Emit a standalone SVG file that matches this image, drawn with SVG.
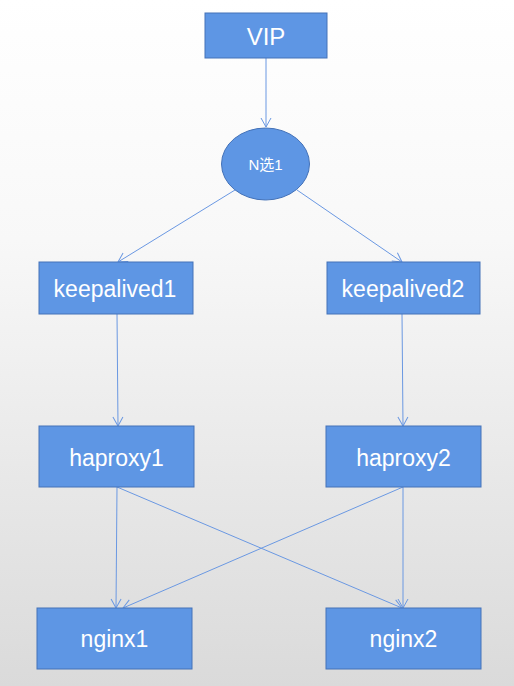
<svg xmlns="http://www.w3.org/2000/svg" width="514" height="686" viewBox="0 0 514 686">
<defs>
<linearGradient id="bg" x1="0" y1="0" x2="0" y2="1">
<stop offset="0" stop-color="#ffffff"/>
<stop offset="0.35" stop-color="#f8f8f8"/>
<stop offset="1" stop-color="#dadada"/>
</linearGradient>
<marker id="arr" markerWidth="12" markerHeight="12" refX="10" refY="6" orient="auto" markerUnits="userSpaceOnUse">
<path d="M1,1 L10,6 L1,11" fill="none" stroke="#6a98e2" stroke-width="1"/>
</marker>
<style>
.box{fill:#5e96e4;stroke:#4472b8;stroke-width:1}
.t{fill:#ffffff;font-family:"Liberation Sans",Arial,sans-serif;font-size:23px;text-anchor:middle;dominant-baseline:central}
.c{stroke:#6a98e2;stroke-width:1;fill:none;marker-end:url(#arr)}
</style>
</defs>
<rect width="514" height="686" fill="url(#bg)"/>
<g id="connectors">
<line class="c" x1="266" y1="58" x2="266" y2="127"/>
<line class="c" x1="235" y1="190" x2="118" y2="262"/>
<line class="c" x1="297" y1="190" x2="402" y2="262"/>
<line class="c" x1="117" y1="314" x2="118" y2="426"/>
<line class="c" x1="402" y1="314" x2="403" y2="426"/>
<line class="c" x1="117" y1="487" x2="116" y2="608"/>
<line class="c" x1="117" y1="487" x2="402" y2="608"/>
<line class="c" x1="403" y1="487" x2="123" y2="608"/>
<line class="c" x1="403" y1="487" x2="403" y2="608"/>
</g>
<g id="vip">
<rect class="box" x="205" y="13" width="122" height="45"/>
<text class="t" x="266" y="36" style="font-size:24px">VIP</text>
</g>
<g id="nselect1">
<ellipse class="box" cx="265.5" cy="164" rx="44" ry="36"/>
<text class="t" x="265.5" y="164" style="font-size:15px;font-family:'Liberation Sans','Noto Sans CJK SC',sans-serif">N选1</text>
</g>
<g id="keepalived1">
<rect class="box" x="39" y="262" width="154" height="52"/>
<text class="t" x="115" y="289">keepalived1</text>
</g>
<g id="keepalived2">
<rect class="box" x="327" y="262" width="153" height="52"/>
<text class="t" x="403" y="289">keepalived2</text>
</g>
<g id="haproxy1">
<rect class="box" x="39" y="426" width="155" height="61"/>
<text class="t" x="116.5" y="458">haproxy1</text>
</g>
<g id="haproxy2">
<rect class="box" x="326" y="426" width="155" height="61"/>
<text class="t" x="403.5" y="458">haproxy2</text>
</g>
<g id="nginx1">
<rect class="box" x="37" y="608" width="155" height="61"/>
<text class="t" x="114.5" y="639">nginx1</text>
</g>
<g id="nginx2">
<rect class="box" x="326" y="608" width="155" height="61"/>
<text class="t" x="403.5" y="639">nginx2</text>
</g>
</svg>
